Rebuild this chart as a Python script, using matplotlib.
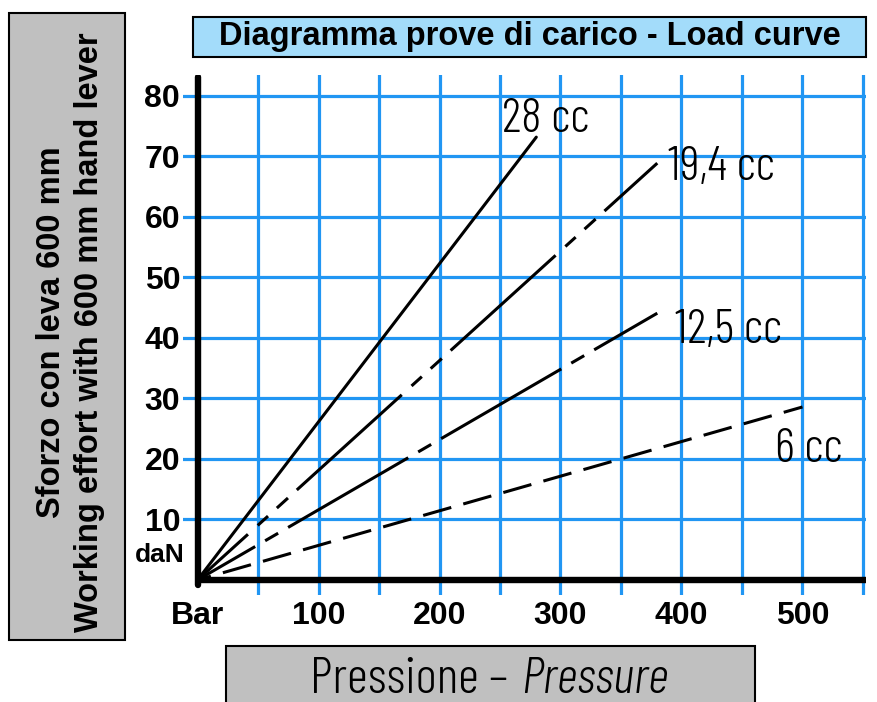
import matplotlib
matplotlib.use('Agg')
import matplotlib.pyplot as plt
from matplotlib.patches import Rectangle

plt.rcParams['font.family'] = ['Liberation Sans', 'DejaVu Sans']
plt.rcParams['lines.scale_dashes'] = False

# curves: all start at 0 bar / 0 daN
curve_labels = ['28 cc', '19,4 cc', '12,5 cc', '6 cc']
end_pressure = [280, 380, 380, 500]
end_effort = [73.2, 68.9, 44.1, 28.6]

x_ticks = [0, 100, 200, 300, 400, 500]
x_ticklabels = ['Bar', '100', '200', '300', '400', '500']
y_ticks = [10, 20, 30, 40, 50, 60, 70, 80]
x_grid = [50, 100, 150, 200, 250, 300, 350, 400, 450, 500, 550]

title = 'Diagramma prove di carico - Load curve'
ylabel_it = 'Sforzo con leva 600 mm'
ylabel_en = 'Working effort with 600 mm hand lever'

narrow = ['Barlow Condensed', 'DejaVu Sans']
grid_blue = '#2196f3'

styles = ['-',
          (53, (102, 9.5, 10, 8.6, 10.8, 8.6)),
          (52, (100, 8.3, 10.8, 8.3)),
          (11, (21, 9))]
label_pos = [(251.7, 74.0), (388.8, 66.1), (394.6, 39.2), (477.3, 19.5)]

fig = plt.figure(figsize=(8.77, 7.02), dpi=100)
ax = fig.add_axes([0.20867, 0.15242, 0.77879, 0.74074])
ax.set_xlim(-12.0, 552.5)
ax.set_ylim(-2.48, 83.47)
for s in ax.spines.values():
    s.set_visible(False)

for x in x_grid:
    ax.axvline(x, color=grid_blue, lw=2.3, zorder=1)
for y in y_ticks:
    ax.axhline(y, color=grid_blue, lw=2.3, zorder=1)

# thick black axes
ax.plot([0, 0], [-0.9, 83.2], color='black', lw=4.6, solid_capstyle='round', zorder=3)
ax.plot([-0.5, 552.5], [0, 0], color='black', lw=4.6, solid_capstyle='butt', zorder=3)

for lab, xe, ye, ls, (tx, ty) in zip(curve_labels, end_pressure, end_effort, styles, label_pos):
    ax.plot([0, xe], [0, ye], color='black', lw=2.2, linestyle=ls,
            solid_capstyle='round', dash_capstyle='butt', zorder=4)
    ax.text(tx, ty, lab, family=narrow, fontweight=300, fontsize=35,
            va='baseline', ha='left', zorder=5)

ax.set_xticks(x_ticks)
ax.set_xticklabels(x_ticklabels, fontsize=23, fontweight='bold')
ax.set_yticks(y_ticks)
ax.set_yticklabels([str(v) for v in y_ticks], fontsize=23, fontweight='bold')
ax.tick_params(axis='both', length=0)
ax.tick_params(axis='x', pad=4)
ax.tick_params(axis='y', pad=2)

ax.text(-10.3, 4.1, 'daN', fontsize=19, fontweight='bold', ha='right', va='center')

# title box
fig.patches.append(Rectangle((0.2201, 0.9188), 0.7674, 0.05698, transform=fig.transFigure,
                             facecolor='#a3dcfa', edgecolor='black', lw=1.5))
fig.text(0.6038, 0.9473, title, fontsize=23.5, fontweight='bold', ha='center', va='center')

# left label box
fig.patches.append(Rectangle((0.01026, 0.0883), 0.1323, 0.8932, transform=fig.transFigure,
                             facecolor='#c0c0c0', edgecolor='black', lw=1.5))
fig.text(0.0590, 0.527, ylabel_it, fontsize=23.5, fontweight='bold', rotation=90,
         ha='center', va='center')
fig.text(0.1015, 0.527, ylabel_en, fontsize=23.5, fontweight='bold', rotation=90,
         ha='center', va='center')

# bottom label box
fig.patches.append(Rectangle((0.2577, -0.02), 0.6032, 0.0998, transform=fig.transFigure,
                             facecolor='#c0c0c0', edgecolor='black', lw=1.5))
fig.text(508 / 877, 1 - 693 / 702, 'Pressione \u2013', family=narrow, fontweight=300,
         fontsize=37, ha='right', va='baseline')
fig.text(521 / 877, 1 - 693 / 702, 'Pressure', family=narrow, fontweight=300,
         fontsize=37, style='italic', ha='left', va='baseline')

fig.savefig('out.png', dpi=100)
